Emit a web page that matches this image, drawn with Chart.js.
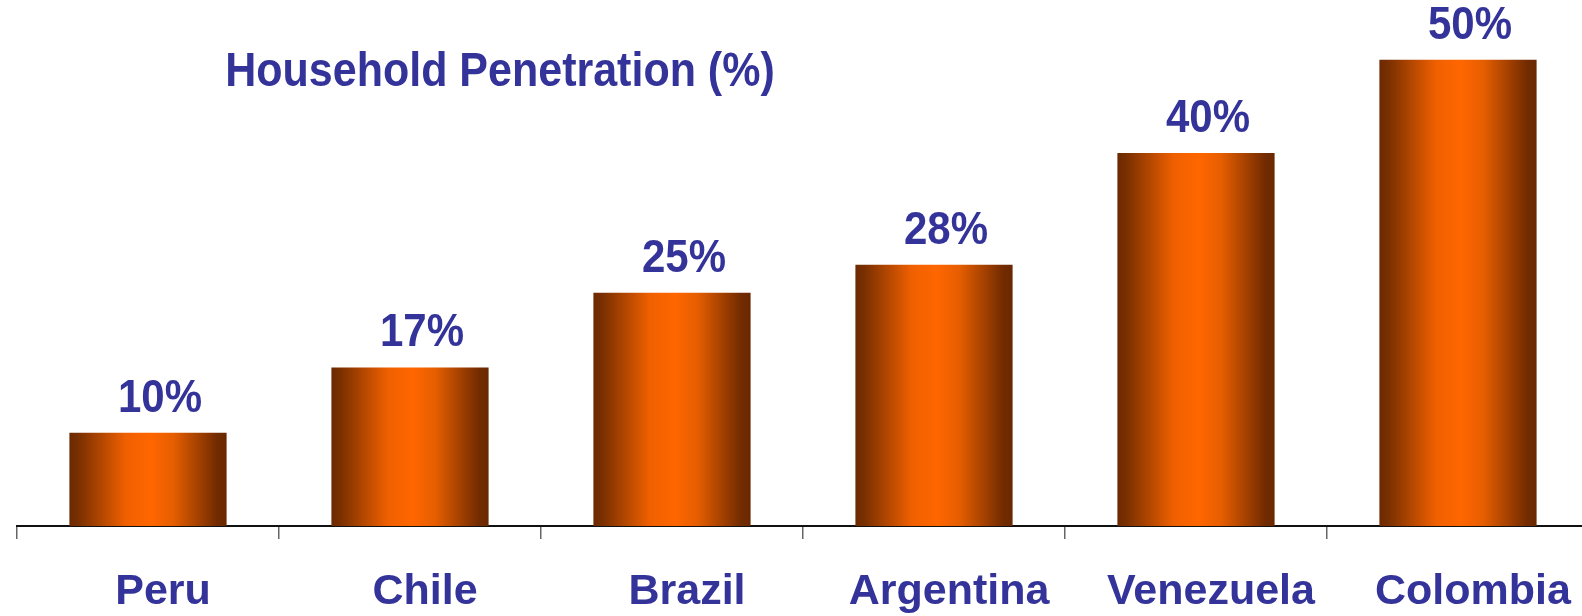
<!DOCTYPE html>
<html>
<head>
<meta charset="utf-8">
<script src="https://cdn.jsdelivr.net/npm/chart.js@4.4.1/dist/chart.umd.min.js"></script>
<style>
  html, body { margin: 0; padding: 0; background: #fff; overflow: hidden; }
  #penetrationChart { display: block; }
</style>
</head>
<body>
<canvas id="penetrationChart" width="1600" height="616"></canvas>
<script>
const countries = ['Peru', 'Chile', 'Brazil', 'Argentina', 'Venezuela', 'Colombia'];
const penetration = [10, 17, 25, 28, 40, 50];
const chartTitle = 'Household Penetration (%)';

const TEXT_BLUE = '#333399';
const FONT = '"Liberation Sans", Arial, sans-serif';

// cylinder-like shading across each bar
function barGradient(ctx, left, right) {
    const g = ctx.createLinearGradient(left, 0, right, 0);
    g.addColorStop(0, '#6c2900');
    g.addColorStop(0.06, '#7a3000');
    g.addColorStop(0.36, '#f06000');
    g.addColorStop(0.52, '#ff6600');
    g.addColorStop(0.66, '#e65e00');
    g.addColorStop(0.94, '#722b00');
    g.addColorStop(1, '#6a2800');
    return g;
}

// bars share one resolved options object, so give each its own copy
const shadeBars = {
    id: 'shadeBars',
    beforeDatasetsDraw(chart) {
        const meta = chart.getDatasetMeta(0);
        meta.data.forEach(bar => {
            const half = bar.width / 2;
            bar.options = Object.assign({}, bar.options, {
                backgroundColor: barGradient(chart.ctx, bar.x - half, bar.x + half)
            });
        });
    }
};

// bold text drawn slightly taller than wide
function tallText(ctx, text, x, y, size, stretch) {
    ctx.save();
    ctx.font = 'bold ' + size + 'px ' + FONT;
    ctx.fillStyle = TEXT_BLUE;
    ctx.textAlign = 'center';
    ctx.textBaseline = 'alphabetic';
    ctx.translate(x, y);
    ctx.scale(1, stretch);
    ctx.fillText(text, 0, 0);
    ctx.restore();
}

const valueLabels = {
    id: 'valueLabels',
    afterDatasetsDraw(chart) {
        const meta = chart.getDatasetMeta(0);
        meta.data.forEach((bar, i) => {
            tallText(chart.ctx, penetration[i] + '%', bar.x + 12, bar.y - 21, 42, 1.12);
        });
    }
};

const titleText = {
    id: 'titleText',
    afterDraw(chart) {
        tallText(chart.ctx, chartTitle, 500, 86, 43, 1.1);
    }
};

new Chart(document.getElementById('penetrationChart'), {
    type: 'bar',
    data: {
        labels: countries,
        datasets: [{
            data: penetration,
            backgroundColor: '#e65e00',
            borderWidth: 0,
            categoryPercentage: 0.6,
            barPercentage: 1
        }]
    },
    options: {
        responsive: false,
        animation: false,
        layout: { padding: { left: 17, right: 11, top: 13, bottom: 0 } },
        plugins: {
            legend: { display: false },
            tooltip: { enabled: false }
        },
        scales: {
            x: {
                offset: true,
                afterFit(scale) { scale.height = 90; },
                grid: {
                    display: true,
                    drawOnChartArea: false,
                    drawTicks: true,
                    tickLength: 13,
                    color: '#666',
                    lineWidth: 1.5
                },
                border: { display: true, color: '#111', width: 2 },
                ticks: {
                    color: TEXT_BLUE,
                    padding: 27,
                    labelOffset: 15,
                    font: { family: FONT, size: 43, weight: 'bold' }
                }
            },
            y: {
                display: false,
                min: 0,
                max: 55
            }
        }
    },
    plugins: [shadeBars, valueLabels, titleText]
});
</script>
</body>
</html>
